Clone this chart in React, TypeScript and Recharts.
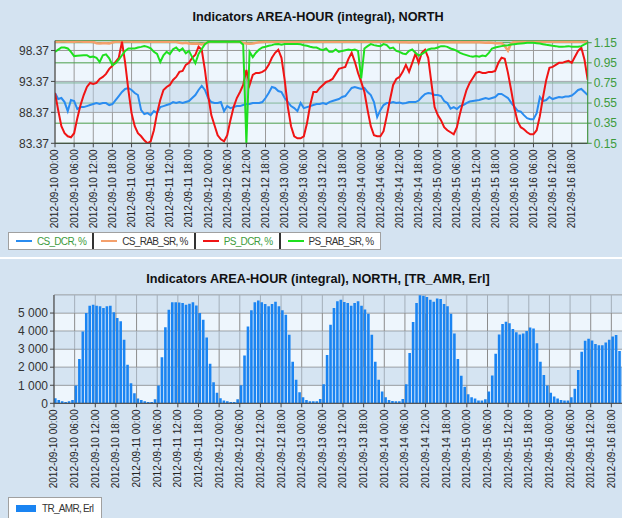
import React from "react";
import { LineChart, Line, BarChart, Bar, XAxis, YAxis, CartesianGrid, ReferenceArea } from "recharts";

const FONT = "'Liberation Sans', Arial, sans-serif";

const tickHours = [0, 6, 12, 18, 24, 30, 36, 42, 48, 54, 60, 66, 72, 78, 84, 90, 96, 102, 108, 114, 120, 126, 132, 138, 144, 150, 156, 162];
const tickLabels = [
  "2012-09-10 00:00", "2012-09-10 06:00", "2012-09-10 12:00", "2012-09-10 18:00",
  "2012-09-11 00:00", "2012-09-11 06:00", "2012-09-11 12:00", "2012-09-11 18:00",
  "2012-09-12 00:00", "2012-09-12 06:00", "2012-09-12 12:00", "2012-09-12 18:00",
  "2012-09-13 00:00", "2012-09-13 06:00", "2012-09-13 12:00", "2012-09-13 18:00",
  "2012-09-14 00:00", "2012-09-14 06:00", "2012-09-14 12:00", "2012-09-14 18:00",
  "2012-09-15 00:00", "2012-09-15 06:00", "2012-09-15 12:00", "2012-09-15 18:00",
  "2012-09-16 00:00", "2012-09-16 06:00", "2012-09-16 12:00", "2012-09-16 18:00",
];

// hourly values, 2012-09-10 00:00 .. 2012-09-16 23:00
const csDcr = [
  0.65, 0.59, 0.60, 0.56, 0.47, 0.58, 0.57, 0.49, 0.51, 0.51, 0.52, 0.53,
  0.54, 0.55, 0.54, 0.55, 0.55, 0.53, 0.54, 0.58, 0.62, 0.66, 0.69, 0.70,
  0.68, 0.65, 0.63, 0.48, 0.44, 0.45, 0.43, 0.47, 0.45, 0.51, 0.52, 0.53,
  0.54, 0.56, 0.55, 0.56, 0.55, 0.56, 0.57, 0.60, 0.63, 0.68, 0.72, 0.68,
  0.60, 0.56, 0.55, 0.55, 0.56, 0.47, 0.52, 0.50, 0.51, 0.52, 0.52, 0.53,
  0.54, 0.54, 0.55, 0.55, 0.55, 0.56, 0.60, 0.65, 0.71, 0.70, 0.67, 0.66,
  0.60, 0.56, 0.52, 0.50, 0.47, 0.55, 0.50, 0.51, 0.52, 0.53, 0.54, 0.54,
  0.55, 0.54, 0.56, 0.57, 0.58, 0.59, 0.61, 0.62, 0.66, 0.70, 0.71, 0.70,
  0.69, 0.70, 0.66, 0.63, 0.56, 0.41, 0.48, 0.53, 0.55, 0.55, 0.56, 0.55,
  0.555, 0.545, 0.55, 0.56, 0.56, 0.56, 0.575, 0.61, 0.64, 0.65, 0.645, 0.63,
  0.63, 0.62, 0.57, 0.55, 0.495, 0.51, 0.49, 0.52, 0.53, 0.55, 0.565, 0.57,
  0.575, 0.58, 0.59, 0.60, 0.59, 0.60, 0.61, 0.64, 0.64, 0.62, 0.60, 0.555,
  0.515, 0.475, 0.465, 0.43, 0.40, 0.39, 0.39, 0.45, 0.61, 0.57, 0.58, 0.61,
  0.59, 0.60, 0.61, 0.605, 0.615, 0.615, 0.625, 0.65, 0.68, 0.69, 0.66, 0.63,
];

const csRabSr = [
  99.82, 99.80, 99.83, 99.82, 99.80, 99.78, 99.80, 99.82, 99.83, 99.80, 99.80, 99.78,
  99.75, 99.55, 99.50, 99.52, 99.55, 99.50, 99.65, 99.80, 99.82, 99.80, 99.83, 99.82,
  99.80, 99.78, 99.80, 99.82, 99.80, 99.78, 99.80, 99.82, 99.80, 99.80, 99.78, 99.80,
  99.80, 99.82, 99.78, 99.60, 99.55, 99.60, 99.50, 99.45, 99.50, 99.45, 99.35, 99.50,
  99.70, 99.80, 99.82, 99.83, 99.82, 99.80, 99.82, 99.83, 99.80, 99.82, 99.80, 99.60,
  99.50, 99.45, 99.50, 99.60, 99.70, 99.75, 99.78, 99.80, 99.80, 99.78, 99.80, 99.82,
  99.80, 99.78, 99.80, 99.80, 99.82, 99.80, 99.78, 99.80, 99.82, 99.80, 99.78, 99.80,
  99.80, 99.78, 99.80, 99.82, 99.80, 99.78, 99.80, 99.80, 99.82, 99.80, 99.78, 99.80,
  99.78, 99.80, 99.82, 99.80, 99.78, 99.80, 99.82, 99.80, 99.78, 99.80, 99.80, 99.78,
  99.70, 99.68, 99.70, 99.65, 99.68, 99.70, 99.68, 99.65, 99.70, 99.68, 99.70, 99.68,
  99.70, 99.68, 99.70, 99.72, 99.70, 99.68, 99.70, 99.72, 99.70, 99.68, 99.70, 99.68,
  99.70, 99.68, 99.65, 99.60, 99.65, 99.60, 99.55, 99.55, 99.55, 99.10, 98.35, 99.50,
  99.78, 99.80, 99.80, 99.82, 99.80, 99.80, 99.78, 99.80, 99.82, 99.80, 99.80, 99.78,
  99.80, 99.80, 99.78, 99.80, 99.80, 99.78, 99.80, 99.82, 99.80, 99.78, 99.80, 99.80,
];

const psDcr = [
  0.65, 0.48, 0.32, 0.25, 0.22, 0.21, 0.25, 0.40, 0.53, 0.63, 0.71, 0.75,
  0.74, 0.75, 0.79, 0.81, 0.84, 0.89, 0.92, 0.96, 1.00, 1.16, 0.95, 0.68,
  0.45, 0.32, 0.25, 0.22, 0.18, 0.15, 0.17, 0.28, 0.45, 0.58, 0.68, 0.71,
  0.73, 0.78, 0.81, 0.86, 0.87, 0.93, 0.95, 1.00, 1.03, 1.11, 1.08, 0.88,
  0.63, 0.43, 0.33, 0.23, 0.19, 0.17, 0.23, 0.38, 0.51, 0.60, 0.66, 0.73,
  0.88, 0.73, 0.83, 0.85, 0.85, 0.86, 0.88, 0.93, 1.00, 1.05, 1.08, 1.00,
  0.78, 0.51, 0.32, 0.22, 0.20, 0.20, 0.22, 0.35, 0.53, 0.66, 0.66, 0.70,
  0.73, 0.76, 0.77, 0.79, 0.84, 0.89, 0.90, 0.91, 0.99, 1.05, 0.96, 0.85,
  0.76, 0.66, 0.48, 0.32, 0.23, 0.22, 0.22, 0.27, 0.42, 0.58, 0.73, 0.79,
  0.81, 0.86, 0.93, 0.86, 0.95, 1.04, 0.95, 1.05, 1.08, 1.00, 0.75, 0.51,
  0.43, 0.38, 0.31, 0.28, 0.26, 0.24, 0.31, 0.45, 0.57, 0.68, 0.75, 0.80,
  0.85, 0.86, 0.85, 0.85, 0.86, 0.86, 0.87, 0.95, 1.00, 0.99, 0.85, 0.68,
  0.50, 0.37, 0.31, 0.29, 0.26, 0.24, 0.24, 0.28, 0.42, 0.61, 0.78, 0.90,
  0.91, 0.93, 0.95, 0.95, 0.96, 0.97, 0.95, 1.01, 1.07, 1.10, 0.98, 0.78,
];

const psRabSr = [
  98.15, 98.50, 98.85, 98.85, 98.70, 98.15, 97.46, 97.50, 97.55, 97.60, 97.60, 97.30,
  97.40, 97.20, 96.50, 97.60, 97.75, 97.10, 96.00, 96.30, 96.90, 97.60, 98.30, 98.70,
  98.70, 98.70, 98.85, 98.95, 99.07, 98.95, 98.70, 98.15, 97.80, 96.50, 97.60, 98.15,
  97.80, 98.55, 98.85, 98.30, 98.70, 97.90, 98.30, 97.30, 96.30, 97.80, 98.60, 99.40,
  99.75, 99.80, 99.82, 99.80, 99.82, 99.80, 99.82, 99.80, 99.82, 99.80, 99.78, 99.30,
  83.37, 98.15, 97.30, 98.00, 98.53, 98.85, 98.96, 99.12, 99.23, 99.39, 99.40, 99.30,
  99.40, 99.40, 99.42, 99.40, 99.40, 99.38, 99.23, 99.12, 98.96, 98.85, 98.85, 98.58,
  98.42, 98.70, 98.15, 98.15, 98.53, 98.15, 98.30, 98.42, 98.53, 98.42, 98.53, 98.30,
  93.85, 98.70, 99.07, 99.39, 99.23, 99.12, 99.07, 99.39, 99.23, 98.70, 98.85, 98.30,
  98.15, 97.88, 97.78, 98.30, 98.53, 97.99, 97.56, 97.78, 98.15, 98.53, 98.69, 98.69,
  98.85, 99.07, 99.07, 98.96, 98.69, 98.53, 98.31, 97.99, 97.78, 97.62, 97.46, 97.35,
  97.46, 97.35, 97.56, 97.46, 97.99, 98.69, 98.85, 98.96, 99.07, 99.18, 99.23, 99.34,
  99.39, 99.45, 99.50, 99.55, 99.60, 99.60, 99.60, 99.55, 99.50, 99.39, 99.28, 99.23,
  99.12, 99.07, 98.96, 98.96, 99.00, 99.07, 98.96, 98.96, 98.96, 99.07, 99.34, 99.60,
];

const trAmr = [
  280, 185, 110, 75, 110, 185, 980, 2460, 3980, 5000, 5400, 5460,
  5400, 5370, 5280, 5370, 5400, 5050, 4720, 4540, 3520, 2130, 1110, 555,
  260, 185, 110, 75, 75, 220, 980, 2550, 4220, 5180, 5600, 5600,
  5580, 5550, 5460, 5520, 5600, 5420, 5000, 4630, 3650, 2190, 1170, 590,
  280, 150, 110, 75, 75, 220, 1000, 2650, 4250, 5150, 5600, 5700,
  5600, 5500, 5370, 5500, 5630, 5370, 5150, 4900, 3800, 2300, 1300, 610,
  330, 185, 110, 110, 110, 240, 1060, 2670, 4350, 5280, 5650, 5740,
  5610, 5560, 5410, 5560, 5650, 5410, 5190, 4960, 3800, 2300, 1300, 650,
  330, 185, 130, 110, 110, 240, 1060, 2780, 4500, 5560, 5980, 5960,
  5890, 5740, 5630, 5810, 5780, 5500, 5370, 4960, 3870, 2460, 1520, 910,
  500, 330, 260, 150, 150, 220, 650, 1540, 2740, 3810, 4390, 4520,
  4440, 4110, 3930, 3810, 3870, 4000, 4200, 4150, 3330, 2300, 1570, 980,
  590, 370, 260, 185, 150, 150, 330, 810, 1850, 2850, 3460, 3570,
  3480, 3280, 3220, 3220, 3370, 3520, 3700, 3780, 2900, 2000, 1400, 900,
];

const leftTicks = [83.37, 88.37, 93.37, 98.37];
const rightTicks = [0.15, 0.35, 0.55, 0.75, 0.95, 1.15];
const barTicks = [0, 1000, 2000, 3000, 4000, 5000];

const lineSeries = [
  { key: "csDcr", name: "CS_DCR, %", color: "#2a8cf0", axis: "right", text: "#3d9b3d" },
  { key: "csRabSr", name: "CS_RAB_SR, %", color: "#f4a06c", axis: "left", text: "#333" },
  { key: "psDcr", name: "PS_DCR, %", color: "#f01414", axis: "right", text: "#3d9b3d" },
  { key: "psRabSr", name: "PS_RAB_SR, %", color: "#1ee01e", axis: "left", text: "#333" },
];

const lineRows = csDcr.map((v, i) => ({
  h: i,
  csDcr: v,
  csRabSr: csRabSr[i],
  psDcr: psDcr[i],
  psRabSr: psRabSr[i],
}));

const barRows = trAmr.map((v, i) => ({ h: i + 0.5, trAmr: v }));

const BG = "#d4e3f1";
const PLOT = "#eef6fd";
const GREEN = "#3d9b3d";

function TimeTick({ x, y, payload }: any) {
  const label = tickLabels[tickHours.indexOf(payload.value)];
  return (
    <text
      x={x}
      y={y}
      transform={`rotate(-90 ${x} ${y})`}
      textAnchor="end"
      dy="0.35em"
      fontSize={10}
      fontFamily={FONT}
      fill="#222"
    >
      {label}
    </text>
  );
}

const fmtThousands = (v: number) => (v === 0 ? "0" : `${Math.round(v / 1000)} 000`);

function Title({ text, top }: { text: string; top: number }) {
  return (
    <div
      style={{
        position: "absolute",
        left: 318,
        top,
        transform: "translateX(-50%)",
        whiteSpace: "nowrap",
        fontFamily: FONT,
        fontWeight: "bold",
        fontSize: 12.7,
        color: "#111",
      }}
    >
      {text}
    </div>
  );
}

const legendBox = {
  position: "absolute" as const,
  left: 8,
  display: "flex",
  alignItems: "center",
  background: "#fff",
  border: "1px solid #a0a0a0",
  fontSize: 10,
  letterSpacing: -0.7,
};

export default function App() {
  return (
    <div
      style={{
        position: "relative",
        width: 622,
        height: 518,
        overflow: "hidden",
        background: BG,
        fontFamily: FONT,
      }}
    >
      <style>{"body{margin:0}"}</style>

      <Title text="Indicators AREA-HOUR (integral), NORTH" top={10} />
      <div style={{ position: "absolute", left: 0, top: 0 }}>
        <LineChart width={622} height={256} data={lineRows} margin={{ top: 40.7, right: 0, bottom: 0, left: 0 }}>
          <CartesianGrid yAxisId="left" stroke="#9a9a9a" fill={PLOT} />
          <ReferenceArea yAxisId="left" y1={88.37} y2={93.37} fill="#bcd2e8" fillOpacity={0.5} stroke="none" />
          <CartesianGrid yAxisId="right" vertical={false} stroke="#4a9e4a" />
          <XAxis
            type="number"
            dataKey="h"
            domain={[0, 167]}
            ticks={tickHours}
            interval={0}
            allowDataOverflow
            height={112.7}
            tick={<TimeTick />}
            tickSize={4}
            tickMargin={2}
            stroke="#444"
          />
          <YAxis
            yAxisId="left"
            width={55}
            domain={[83.37, 99.95]}
            ticks={leftTicks}
            interval={0}
            allowDataOverflow
            tickFormatter={(v: number) => v.toFixed(2)}
            tick={{ fontSize: 12, fill: "#333", fontFamily: FONT }}
            tickSize={4}
            stroke="#444"
          />
          <YAxis
            yAxisId="right"
            orientation="right"
            width={34.3}
            domain={[0.15, 1.17]}
            ticks={rightTicks}
            interval={0}
            allowDataOverflow
            tickFormatter={(v: number) => v.toFixed(2)}
            tick={{ fontSize: 12, fill: GREEN, fontFamily: FONT }}
            tickSize={4}
            stroke={GREEN}
          />
          {lineSeries.map((s) => (
            <Line
              key={s.key}
              yAxisId={s.axis}
              type="linear"
              dataKey={s.key}
              name={s.name}
              stroke={s.color}
              strokeWidth={s.key === "csRabSr" ? 2.5 : 2}
              dot={false}
              isAnimationActive={false}
            />
          ))}
        </LineChart>
      </div>

      <div style={{ ...legendBox, top: 232, height: 16 }}>
        {lineSeries.map((s, i) => (
          <div
            key={s.key}
            style={{
              display: "flex",
              alignItems: "center",
              padding: "0 6px 0 7px",
              height: 16,
              borderLeft: i > 0 ? "2px solid #333" : "none",
            }}
          >
            <span style={{ display: "inline-block", width: 16, height: 2, background: s.color, marginRight: 5 }} />
            <span style={{ color: s.text }}>{s.name}</span>
          </div>
        ))}
      </div>

      <div style={{ position: "absolute", left: 0, top: 257, width: 622, height: 2, background: "#fff" }} />

      <Title text="Indicators AREA-HOUR (integral), NORTH, [TR_AMR, Erl]" top={272} />
      <div style={{ position: "absolute", left: 0, top: 260 }}>
        <BarChart width={632} height={258} data={barRows} margin={{ top: 35, right: 0, bottom: 0, left: 0 }}>
          <CartesianGrid stroke="#8c8c8c" fill={PLOT} />
          <ReferenceArea y1={1000} y2={2000} fill="#bcd2e8" fillOpacity={0.5} stroke="none" />
          <ReferenceArea y1={3000} y2={4000} fill="#bcd2e8" fillOpacity={0.5} stroke="none" />
          <ReferenceArea y1={5000} y2={6000} fill="#bcd2e8" fillOpacity={0.5} stroke="none" />
          <XAxis
            type="number"
            dataKey="h"
            domain={[0, 168]}
            ticks={tickHours}
            interval={0}
            allowDataOverflow
            height={114.7}
            tick={<TimeTick />}
            tickSize={4}
            tickMargin={2}
            stroke="#444"
          />
          <YAxis
            width={54}
            domain={[0, 6000]}
            ticks={barTicks}
            interval={0}
            allowDataOverflow
            tickFormatter={fmtThousands}
            tick={{ fontSize: 12, fill: "#333", fontFamily: FONT }}
            tickSize={4}
            stroke="#444"
          />
          <Bar dataKey="trAmr" name="TR_AMR, Erl" fill="#1a84f2" barSize={2.6} isAnimationActive={false} />
        </BarChart>
      </div>

      <div style={{ ...legendBox, top: 497, height: 20, padding: "0 8px 0 7px" }}>
        <span style={{ display: "inline-block", width: 20, height: 7, background: "#1a84f2", marginRight: 6 }} />
        <span style={{ color: "#333" }}>TR_AMR, Erl</span>
      </div>
    </div>
  );
}
